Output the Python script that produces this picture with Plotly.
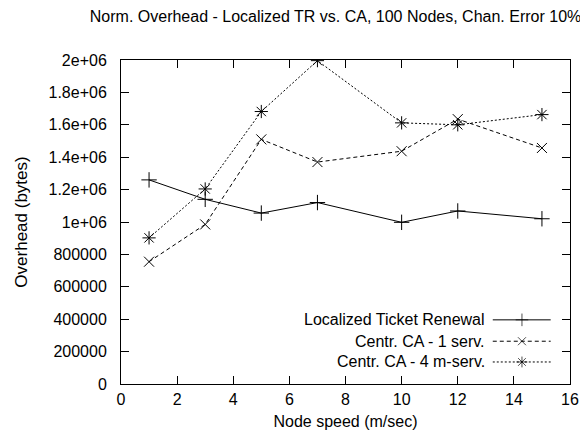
import plotly.graph_objects as go

speed = [1, 3, 5, 7, 10, 12, 15]
localized_tr = [1260000, 1140000, 1055000, 1120000, 998000, 1068000, 1020000]
centr_ca_1 = [755000, 985000, 1510000, 1370000, 1437000, 1635000, 1457000]
centr_ca_4 = [902000, 1204000, 1682000, 1996000, 1612000, 1600000, 1663000]

series_names = ["Localized Ticket Renewal", "Centr. CA - 1 serv.", "Centr. CA - 4 m-serv."]
x_ticks = [0, 2, 4, 6, 8, 10, 12, 14, 16]
y_ticks = [0, 200000, 400000, 600000, 800000, 1000000, 1200000, 1400000, 1600000, 1800000, 2000000]
y_tick_labels = ["0", "200000", "400000", "600000", "800000", "1e+06", "1.2e+06",
                 "1.4e+06", "1.6e+06", "1.8e+06", "2e+06"]

FONT = "Liberation Sans, Arial, sans-serif"

styles = [
    dict(dash="solid", symbol="cross-thin-open", size=11),
    dict(dash="4px,3px", symbol="x-thin-open", size=10),
    dict(dash="2px,2px", symbol="asterisk-open", size=11),
]
data = [localized_tr, centr_ca_1, centr_ca_4]

fig = go.Figure()
for name, ys, st in zip(series_names, data, styles):
    fig.add_trace(go.Scatter(
        x=speed, y=ys, name=name, mode="lines+markers", showlegend=False,
        line=dict(color="black", width=1, dash=st["dash"]),
        marker=dict(symbol=st["symbol"], size=st["size"], color="black",
                    line=dict(color="black", width=1)),
    ))

# gnuplot-style key (text right, sample to the right)
key_y = [0.198, 0.132, 0.068]
for name, st, ky in zip(series_names, styles, key_y):
    fig.add_trace(go.Scatter(
        x=[0.828, 0.893, 0.957], y=[ky, ky, ky], mode="lines+markers",
        showlegend=False, xaxis="x2", yaxis="y2", hoverinfo="skip",
        line=dict(color="black", width=1, dash=st["dash"]),
        marker=dict(symbol=st["symbol"], size=[0, st["size"] - 2, 0], color="black",
                    line=dict(color="black", width=1)),
    ))
    fig.add_annotation(x=0.815, y=ky, xref="paper", yref="paper", text=name,
                       showarrow=False, xanchor="right", yanchor="middle",
                       font=dict(family=FONT, size=16, color="black"))

axis_common = dict(showline=True, linecolor="black", linewidth=1, mirror="allticks",
                   ticks="inside", ticklen=8, tickcolor="black", showgrid=False,
                   zeroline=False,
                   tickfont=dict(family=FONT, size=16, color="black"))

fig.update_layout(
    width=588, height=444,
    paper_bgcolor="white", plot_bgcolor="white",
    margin=dict(l=113, r=26, t=52, b=68),
    title=dict(text="Norm. Overhead - Localized TR vs. CA, 100 Nodes, Chan. Error 10%",
               x=0.557, xanchor="center", y=0.982, yanchor="middle",
               font=dict(family=FONT, size=16, color="black")),
    xaxis=dict(range=[0, 16], tickvals=x_ticks, ticklabelstandoff=1,
               title=dict(text="Node speed (m/sec)", standoff=8,
                          font=dict(family=FONT, size=16, color="black")),
               **axis_common),
    yaxis=dict(range=[0, 2000000], tickvals=y_ticks, ticktext=y_tick_labels,
               ticklabelstandoff=10,
               title=dict(text="Overhead (bytes)", standoff=16,
                          font=dict(family=FONT, size=17, color="black")),
               **axis_common),
    xaxis2=dict(range=[0, 1], overlaying="x", visible=False, fixedrange=True),
    yaxis2=dict(range=[0, 1], overlaying="y", visible=False, fixedrange=True),
    showlegend=False,
)

fig.write_html("out.html")
